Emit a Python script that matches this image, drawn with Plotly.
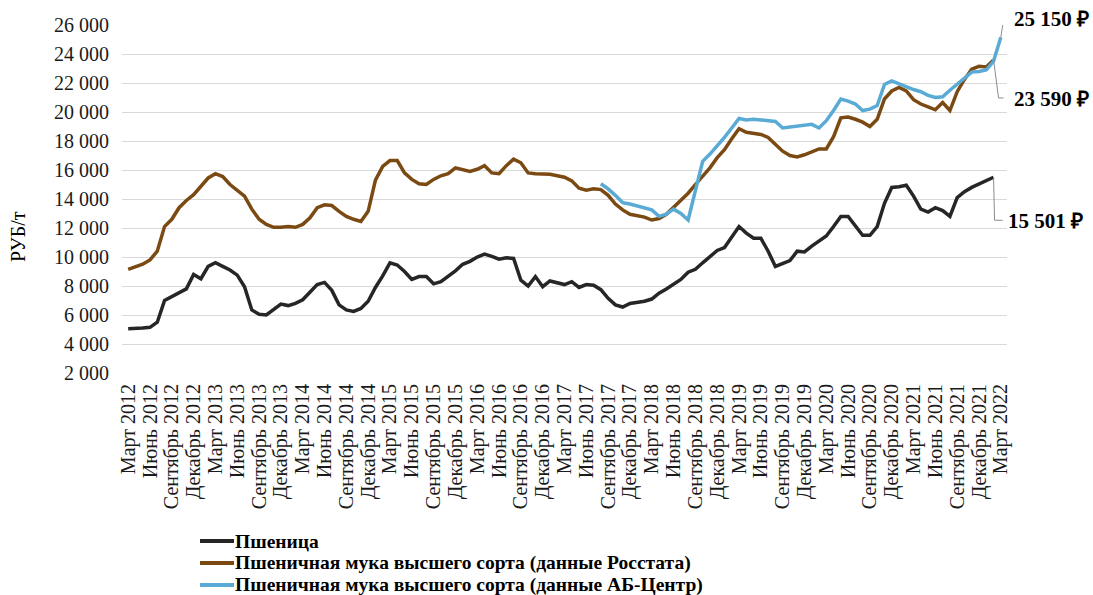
import plotly.graph_objects as go

# ---- data (monthly, March 2012 = index 0) ----
month_names = ["Январь", "Февраль", "Март", "Апрель", "Май", "Июнь",
               "Июль", "Август", "Сентябрь", "Октябрь", "Ноябрь", "Декабрь"]
start_year = 2012
start_month = 2          # March
n_months = 121           # Mar 2012 .. Mar 2022

wheat = [
    5050, 5050, 5100, 5150, 5500, 7000, 7250, 7500, 7800, 8800,
    8500, 9350, 9600, 9350, 9100, 8750, 7950, 6350, 6050, 6000,
    6350, 6750, 6650, 6800, 7050, 7600, 8100, 8250, 7700, 6700,
    6350, 6250, 6450, 6950, 7900, 8700, 9600, 9450, 9000, 8450,
    8650, 8650, 8150, 8300, 8650, 9050, 9500, 9700, 10000, 10200,
    10050, 9850, 9950, 9900, 8400, 8000, 8650, 7950, 8350, 8250,
    8100, 8300, 7900, 8100, 8050, 7750, 7150, 6700, 6550, 6800,
    6850, 6950, 7100, 7500, 7800, 8100, 8450, 8950, 9150, 9600,
    10050, 10450, 10650, 11400, 12100, 11650, 11300, 11300, 10400, 9350,
    9550, 9750, 10400, 10350, 10750, 11100, 11450, 12100, 12800, 12800,
    12150, 11500, 11500, 12100, 13700, 14800, 14850, 14950, 14200, 13300,
    13100, 13400, 13200, 12800, 14100, 14500, 14800, 15050, 15300, 15501,
]

flour_rosstat = [
    9150, 9350, 9500, 9800, 10400, 12100, 12600, 13400, 13900, 14300,
    14900, 15450, 15750, 15550, 15000, 14600, 14200, 13300, 12600, 12250,
    12050, 12050, 12100, 12050, 12250, 12700, 13400, 13600, 13550, 13150,
    12800, 12600, 12450, 13150, 15300, 16250, 16650, 16650, 15800, 15350,
    15050, 15000, 15350, 15600, 15750, 16150, 16050, 15900, 16050, 16300,
    15800, 15750, 16300, 16750, 16500, 15800, 15750, 15750, 15700, 15600,
    15500, 15250, 14750, 14600, 14700, 14650, 14250, 13650, 13250, 12950,
    12850, 12750, 12550, 12650, 12950, 13450, 13950, 14400, 15000, 15550,
    16150, 16850, 17400, 18150, 18850, 18600, 18550, 18450, 18250, 17800,
    17300, 17000, 16900, 17050, 17250, 17450, 17450, 18300, 19600, 19650,
    19500, 19300, 19000, 19500, 20900, 21450, 21700, 21450, 20850, 20550,
    20350, 20150, 20650, 20100, 21400, 22250, 22950, 23150, 23100, 23590,
]

ab_start = 65            # August 2017
flour_ab = [
    15050, 14700, 14250, 13750, 13650, 13500, 13400, 13250, 12800, 12950,
    13300, 13000, 12550, 14650, 16600, 17100, 17650, 18250, 18900, 19550,
    19450, 19500, 19450, 19400, 19350, 18900, 18950, 19000, 19100, 19150,
    18900, 19400, 20100, 20900, 20750, 20550, 20100, 20200, 20450, 21900,
    22150, 21950, 21700, 21550, 21400, 21150, 21000, 21050, 21500, 21900,
    22300, 22750, 22800, 22900, 23500, 25150,
]

series_names = [
    "Пшеница",
    "Пшеничная мука высшего сорта (данные Росстата)",
    "Пшеничная мука высшего сорта (данные АБ-Центр)",
]
series_colors = ["#262626", "#7B4A12", "#5AAAD6"]
y_ticks = list(range(2000, 26001, 2000))

# ---- derived ----
month_labels = []
for k in range(n_months):
    m = (start_month + k) % 12
    y = start_year + (start_month + k) // 12
    month_labels.append(f"{month_names[m]} {y}")
tick_idx = list(range(0, n_months, 3))
tick_txt = [month_labels[k] for k in tick_idx]

x_wheat = list(range(len(wheat)))
x_ros = list(range(len(flour_rosstat)))
x_ab = list(range(ab_start, ab_start + len(flour_ab)))

FONT = "Liberation Serif"
W, H = 1093, 595
ML, MR, MT, MB = 122, 86, 25, 222
PW, PH = W - ML - MR, H - MT - MB


def px_x(px):
    return (px - ML) / PW


def px_y(py):
    return (H - MB - py) / PH


fig = go.Figure()
for xs, ys, name, col in [
    (x_wheat, wheat, series_names[0], series_colors[0]),
    (x_ros, flour_rosstat, series_names[1], series_colors[1]),
    (x_ab, flour_ab, series_names[2], series_colors[2]),
]:
    fig.add_trace(go.Scatter(x=xs, y=ys, mode="lines", name=name,
                             showlegend=False,
                             line=dict(color=col, width=3.5)))


def fmt(v):
    return f"{v:,}".replace(",", " ") + " ₽"


# end-value callouts: (x, y, leader path in pixels, text shifts)
callouts = [
    (x_ab[-1], flour_ab[-1], "M0,0 L3,19 L9,19", 11, 18),
    (x_ros[-1], flour_rosstat[-1], "M0,0 L5,-38 L10,-38", 18, -39),
    (x_wheat[-1], wheat[-1], "M0,0 L1,-43 L9,-43", 12, -44),
]
for cx, cy, path, xs_, ys_ in callouts:
    fig.add_shape(type="path", xref="x", yref="y", xsizemode="pixel",
                  ysizemode="pixel", xanchor=cx, yanchor=cy, path=path,
                  line=dict(color="#8C8C8C", width=1))
    fig.add_annotation(x=cx, y=cy, xref="x", yref="y", text=f"<b>{fmt(cy)}</b>",
                       showarrow=False, xanchor="left", yanchor="middle",
                       xshift=xs_, yshift=ys_,
                       font=dict(family=FONT, size=21, color="#000000"))

# y axis title
fig.add_annotation(text="РУБ/т", xref="paper", yref="paper",
                   x=px_x(18), y=px_y(237), showarrow=False, textangle=-90,
                   xanchor="center", yanchor="middle",
                   font=dict(family=FONT, size=20, color="#000000"))

# legend (drawn as swatch + text rows)
legend_rows_py = [541, 563, 585]
for name, col, py in zip(series_names, series_colors, legend_rows_py):
    fig.add_shape(type="line", xref="paper", yref="paper",
                  x0=px_x(200), x1=px_x(234), y0=px_y(py), y1=px_y(py),
                  line=dict(color=col, width=4))
    fig.add_annotation(text=f"<b>{name}</b>", xref="paper", yref="paper",
                       x=px_x(234), y=px_y(py), showarrow=False,
                       xanchor="left", yanchor="middle", borderpad=0,
                       font=dict(family=FONT, size=19.5, color="#000000"))

fig.update_layout(
    width=W, height=H,
    margin=dict(l=ML, r=MR, t=MT, b=MB),
    paper_bgcolor="white", plot_bgcolor="white",
    separators=", ",
    font=dict(family=FONT, color="#000000"),
    showlegend=False,
    xaxis=dict(range=[-0.85, 120.85], tickmode="array", tickvals=tick_idx,
               ticktext=tick_txt, tickangle=-90, showgrid=False, zeroline=False,
               showline=False, ticks="", ticklabelstandoff=6,
               tickfont=dict(family=FONT, size=20, color="#1a1a1a")),
    yaxis=dict(range=[2000, 26000], tickmode="array", tickvals=y_ticks,
               tickformat=",d", showgrid=True, gridcolor="#D9D9D9",
               gridwidth=1, zeroline=False, showline=False, ticks="",
               ticklabelstandoff=12,
               tickfont=dict(family=FONT, size=20, color="#1a1a1a")),
)

fig.write_html("out.html", config={"displayModeBar": False})

# remove default page margins so the figure sits at the window origin
with open("out.html", encoding="utf-8") as f:
    html = f.read()
html = html.replace("<head>", "<head><style>html,body{margin:0;padding:0;overflow:hidden}</style>", 1)
with open("out.html", "w", encoding="utf-8") as f:
    f.write(html)
